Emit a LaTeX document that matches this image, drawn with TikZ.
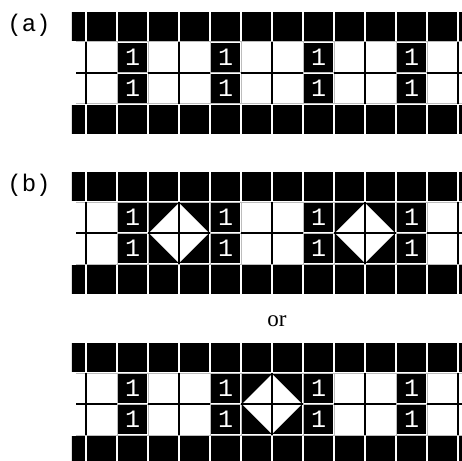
\documentclass[tikz,border=0pt]{standalone}
\usepackage{fontspec}
\setmainfont{Liberation Serif}
\newfontfamily\tagfont{Liberation Mono}
\usepackage{tikz}
\usepackage{xcolor}
\tikzset{
    gridln/.style={draw=GridGray, line width=1pt},
    wall/.style={draw=black, line width=2pt},
    onelbl/.style={text=white, inner sep=0pt, font=\tagfont\fontsize{25}{25}\selectfont},
    tag/.style={inner sep=0pt, font=\tagfont\fontsize{24}{24}\selectfont},
    note/.style={inner sep=0pt, font=\fontsize{23}{23}\selectfont},
}
\definecolor{GridGray}{HTML}{BDBDBD}
\def\ins{0.032}

% one strip: black rows, white rows with walls, cells with 1
\newcommand{\drawstrip}[1]{%
    % grid of the white rows
    \foreach \j in {1,2,3} \draw[gridln] (-0.32,\j) -- (12.3,\j);
    \foreach \i in {0,...,12} \draw[gridln] (\i,1) -- (\i,3);
    % walls
    \foreach \i in {0,3,...,12} \draw[wall] (\i,1) -- (\i,3);
    \draw[wall] (-0.32,2) -- (1,2);
    \foreach \i in {2,5,8,11} \draw[wall] (\i,2) -- (\i+2,2);
    % black rows
    \begin{scope}
        \clip (-0.452,-0.5) rectangle (13,4.5);
        \foreach \i in {-1,...,12} \foreach \j in {0,3}
            \fill (\i+\ins,\j+\ins) rectangle (\i+1-\ins,\j+1-\ins);
    \end{scope}
    % cells with 1
    \foreach \i in {1,4,7,10} \foreach \j in {1,2} {
        \fill (\i+\ins,\j+\ins) rectangle (\i+1-\ins,\j+1-\ins);
        \node[onelbl] (#1-one-\i-\j) at (\i+0.5,\j+0.5) {1};
    }
}

% flipped 2x2 block with a white diamond
\newcommand{\flipblock}[1]{%
    \fill (#1+\ins,1+\ins) rectangle (#1+2-\ins,3-\ins);
    \fill[white] (#1+1,1+\ins) -- (#1+2-\ins,2) -- (#1+1,3-\ins) -- (#1+\ins,2) -- cycle;
    \draw[wall] (#1+1,1) -- (#1+1,3);
    \draw[wall] (#1,2) -- (#1+2,2);
}

\begin{document}
\begin{tikzpicture}[x=31pt, y=-31pt]

\clip (-2.7742,-0.3548) rectangle (12.129,14.516);
\fill[white] (-2.7742,-0.3548) rectangle (12.129,14.516);

% (a)
\drawstrip{a}
\node[tag] (tag-a) at (-1.839,0.452) {(a)};

% (b)
\begin{scope}[yshift=-160pt]
    \drawstrip{b}
    \flipblock{2}
    \flipblock{8}
    \node[tag] (tag-b) at (-1.839,0.452) {(b)};
\end{scope}

% or
\node[note] (or-word) at (6.161,10.0) {or};

\begin{scope}[yshift=-331pt]
    \drawstrip{c}
    \flipblock{5}
\end{scope}

\end{tikzpicture}
\end{document}
